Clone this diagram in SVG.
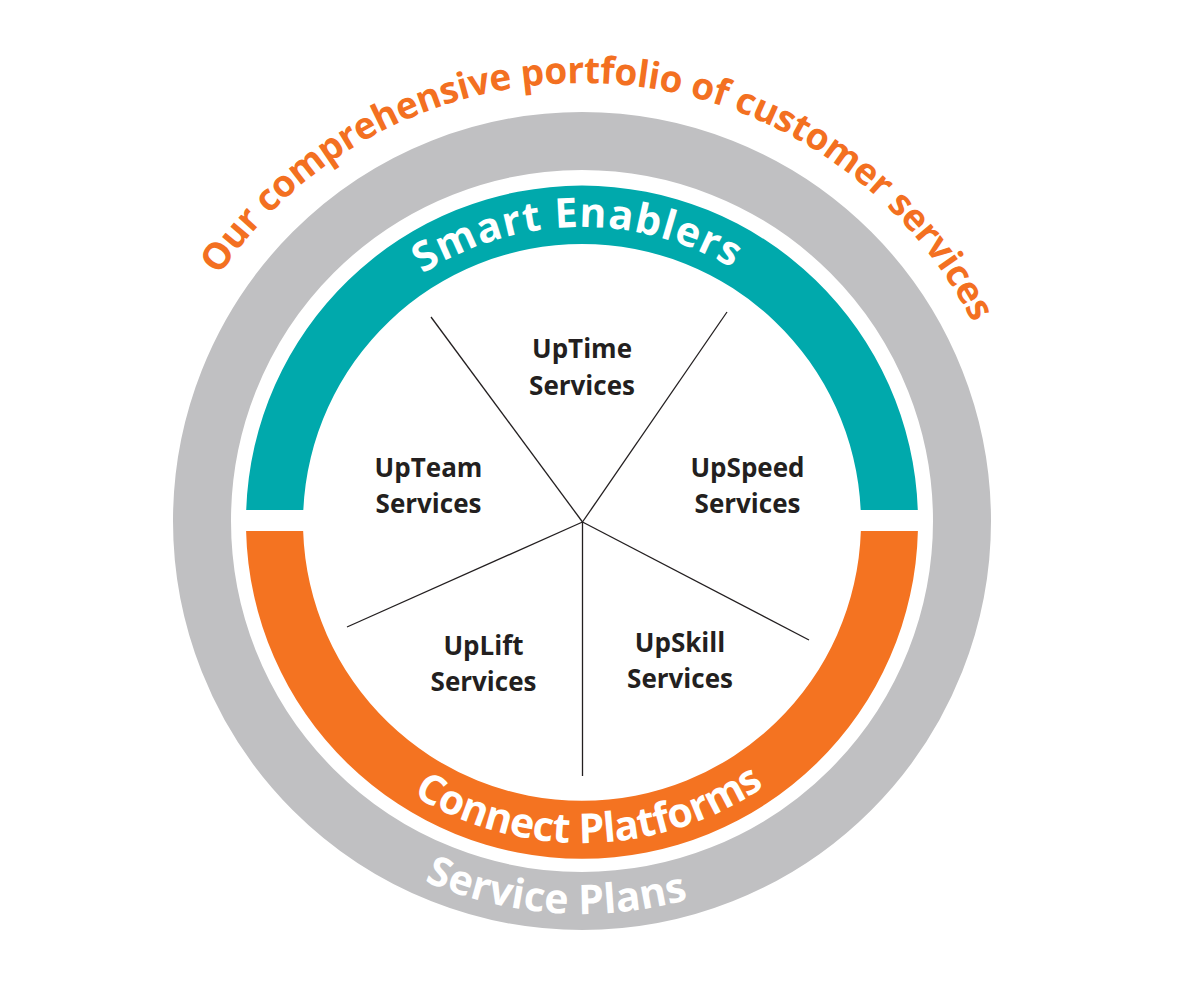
<svg xmlns="http://www.w3.org/2000/svg" width="1196" height="984" viewBox="0 0 1196 984">
<style>
.lbl{font-family:"Open Sans","Noto Sans","Liberation Sans",sans-serif;font-weight:700;font-size:26px;fill:#231f20;text-anchor:middle}
.ring{font-family:"Open Sans","Noto Sans","Liberation Sans",sans-serif;font-weight:700;fill:#ffffff;text-anchor:middle}
.title{font-family:"Open Sans","Noto Sans","Liberation Sans",sans-serif;font-weight:700;fill:#f37021;text-anchor:middle}
.spoke{stroke:#231f20;stroke-width:1.3;fill:none}
</style>
<defs>
<path id="pTitle" d="M 144 521 A 438 438 0 0 1 1020 521"/>
<path id="pSmart" d="M 288 521 A 294 294 0 0 1 876 521"/>
<path id="pConnect" d="M 260 521 A 322 322 0 0 0 904 521"/>
<path id="pPlans" d="M 189 521 A 393 393 0 0 0 975 521"/>
</defs>
<rect width="1196" height="984" fill="#ffffff"/>
<g id="service-plans">
<circle cx="582" cy="521" r="380" fill="none" stroke="#c0c0c2" stroke-width="58"/>
<text class="ring" font-size="41"><textPath href="#pPlans" startOffset="47.8%" textLength="270" lengthAdjust="spacing">Service Plans</textPath></text>
</g>
<g id="smart-enablers">
<path d="M 246.2 510 A 336 336 0 0 1 917.8 510 L 860.7 510 A 279 279 0 0 0 303.3 510 Z" fill="#00a9ac"/>
<text class="ring" font-size="41"><textPath href="#pSmart" startOffset="49.4%" textLength="326" lengthAdjust="spacing">Smart Enablers</textPath></text>
</g>
<g id="connect-platforms">
<path d="M 246.1 531 A 336 336 0 0 0 917.9 531 L 860.85 531 A 279 279 0 0 1 303.15 531 Z" fill="#f47321"/>
<text class="ring" font-size="41"><textPath href="#pConnect" startOffset="50.8%" textLength="372" lengthAdjust="spacing">Connect  Platforms</textPath></text>
</g>
<g id="title">
<text class="title" font-size="37"><textPath href="#pTitle" startOffset="52%" textLength="910" lengthAdjust="spacing">Our comprehensive portfolio of customer services</textPath></text>
</g>
<g id="connectors">
<line class="spoke" x1="582.5" y1="522" x2="431" y2="317"/>
<line class="spoke" x1="582.5" y1="522" x2="727" y2="312"/>
<line class="spoke" x1="582.5" y1="522" x2="347" y2="627"/>
<line class="spoke" x1="582.5" y1="522" x2="809" y2="640"/>
<line class="spoke" x1="582.5" y1="522" x2="582.5" y2="776"/>
</g>
<g id="uptime"><text class="lbl" x="582" y="358">UpTime</text><text class="lbl" x="582" y="395">Services</text></g>
<g id="upteam"><text class="lbl" x="428.5" y="477">UpTeam</text><text class="lbl" x="428.5" y="513">Services</text></g>
<g id="upspeed"><text class="lbl" x="747.5" y="477">UpSpeed</text><text class="lbl" x="747.5" y="513">Services</text></g>
<g id="uplift"><text class="lbl" x="483.5" y="655">UpLift</text><text class="lbl" x="483.5" y="691">Services</text></g>
<g id="upskill"><text class="lbl" x="680" y="652">UpSkill</text><text class="lbl" x="680" y="688">Services</text></g>
</svg>
